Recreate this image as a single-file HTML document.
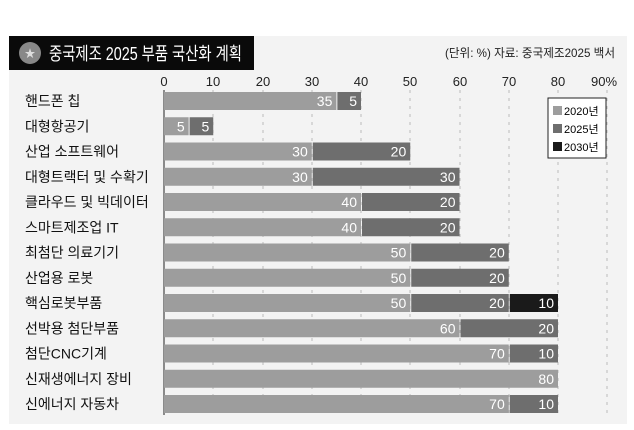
<!DOCTYPE html>
<html><head><meta charset="utf-8"><style>
html,body{margin:0;padding:0;background:#fff;}
svg{display:block;font-family:"Liberation Sans","Noto Sans CJK KR",sans-serif;}
</style></head><body>
<svg width="634" height="430" viewBox="0 0 634 430" xmlns="http://www.w3.org/2000/svg">
<rect x="9" y="36" width="618" height="388" fill="#f3f3f3"/>
<rect x="9" y="36" width="245" height="34" fill="#0a0a0a"/>
<circle cx="30" cy="53" r="11" fill="#888"/>
<text x="30" y="57" font-size="11" fill="#ddd" text-anchor="middle">★</text>
<text x="49" y="60" font-size="18" fill="#fff" textLength="193" lengthAdjust="spacingAndGlyphs">중국제조 2025 부품 국산화 계획</text>
<text x="615" y="57" font-size="12" fill="#222" text-anchor="end" textLength="170" lengthAdjust="spacingAndGlyphs">(단위: %) 자료: 중국제조2025 백서</text>
<g font-size="13" fill="#222" text-anchor="middle">
<text x="164" y="86">0</text><text x="213" y="86">10</text><text x="263" y="86">20</text><text x="312" y="86">30</text><text x="361" y="86">40</text><text x="410" y="86">50</text><text x="460" y="86">60</text><text x="509" y="86">70</text><text x="558" y="86">80</text><text x="604" y="86">90%</text>
</g>
<g stroke="#bbb" stroke-dasharray="3,5" stroke-width="1">
<line x1="213" y1="90" x2="213" y2="415"/><line x1="263" y1="90" x2="263" y2="415"/><line x1="312" y1="90" x2="312" y2="415"/><line x1="361" y1="90" x2="361" y2="415"/><line x1="410" y1="90" x2="410" y2="415"/><line x1="460" y1="90" x2="460" y2="415"/><line x1="509" y1="90" x2="509" y2="415"/><line x1="558" y1="90" x2="558" y2="415"/><line x1="607" y1="90" x2="607" y2="415"/>
</g>
<line x1="164" y1="90" x2="164" y2="415" stroke="#222" stroke-width="1"/>
<g id="bars" font-size="14" fill="#fff" text-anchor="end"></g>
<g font-size="14" fill="#111" id="labels"></g>
<rect x="548" y="98" width="58" height="60" fill="#fff" stroke="#222"/>
<rect x="553" y="106" width="9" height="9" fill="#9d9d9d"/><text x="564" y="115" font-size="11">2020년</text>
<rect x="553" y="124" width="9" height="9" fill="#6e6e6e"/><text x="564" y="133" font-size="11">2025년</text>
<rect x="553" y="142" width="9" height="9" fill="#1a1a1a"/><text x="564" y="151" font-size="11">2030년</text>
</svg>
<script>
var d=[["핸드폰 칩",35,5,0],["대형항공기",5,5,0],["산업 소프트웨어",30,20,0],["대형트랙터 및 수확기",30,30,0],["클라우드 및 빅데이터",40,20,0],["스마트제조업 IT",40,20,0],["최첨단 의료기기",50,20,0],["산업용 로봇",50,20,0],["핵심로봇부품",50,20,10],["선박용 첨단부품",60,20,0],["첨단CNC기계",70,10,0],["신재생에너지 장비",80,0,0],["신에너지 자동차",70,10,0]];
var ns="http://www.w3.org/2000/svg",b=document.getElementById("bars"),l=document.getElementById("labels"),s=4.925,cols=["#9d9d9d","#6e6e6e","#1a1a1a"];
d.forEach(function(r,i){var cy=101+i*25.25,x=164;
var t=document.createElementNS(ns,"text");t.setAttribute("x",25);t.setAttribute("y",cy+5);t.textContent=r[0];l.appendChild(t);
for(var k=1;k<4;k++){if(!r[k])continue;var w=r[k]*s;var re=document.createElementNS(ns,"rect");re.setAttribute("x",x+(k>1?1:0));re.setAttribute("y",cy-9);re.setAttribute("width",w-(k>1?1:0));re.setAttribute("height",18);re.setAttribute("fill",cols[k-1]);b.appendChild(re);
var tx=document.createElementNS(ns,"text");tx.setAttribute("x",x+w-4);tx.setAttribute("y",cy+5);tx.textContent=r[k];b.appendChild(tx);x+=w;}
});
</script>
</body></html>
